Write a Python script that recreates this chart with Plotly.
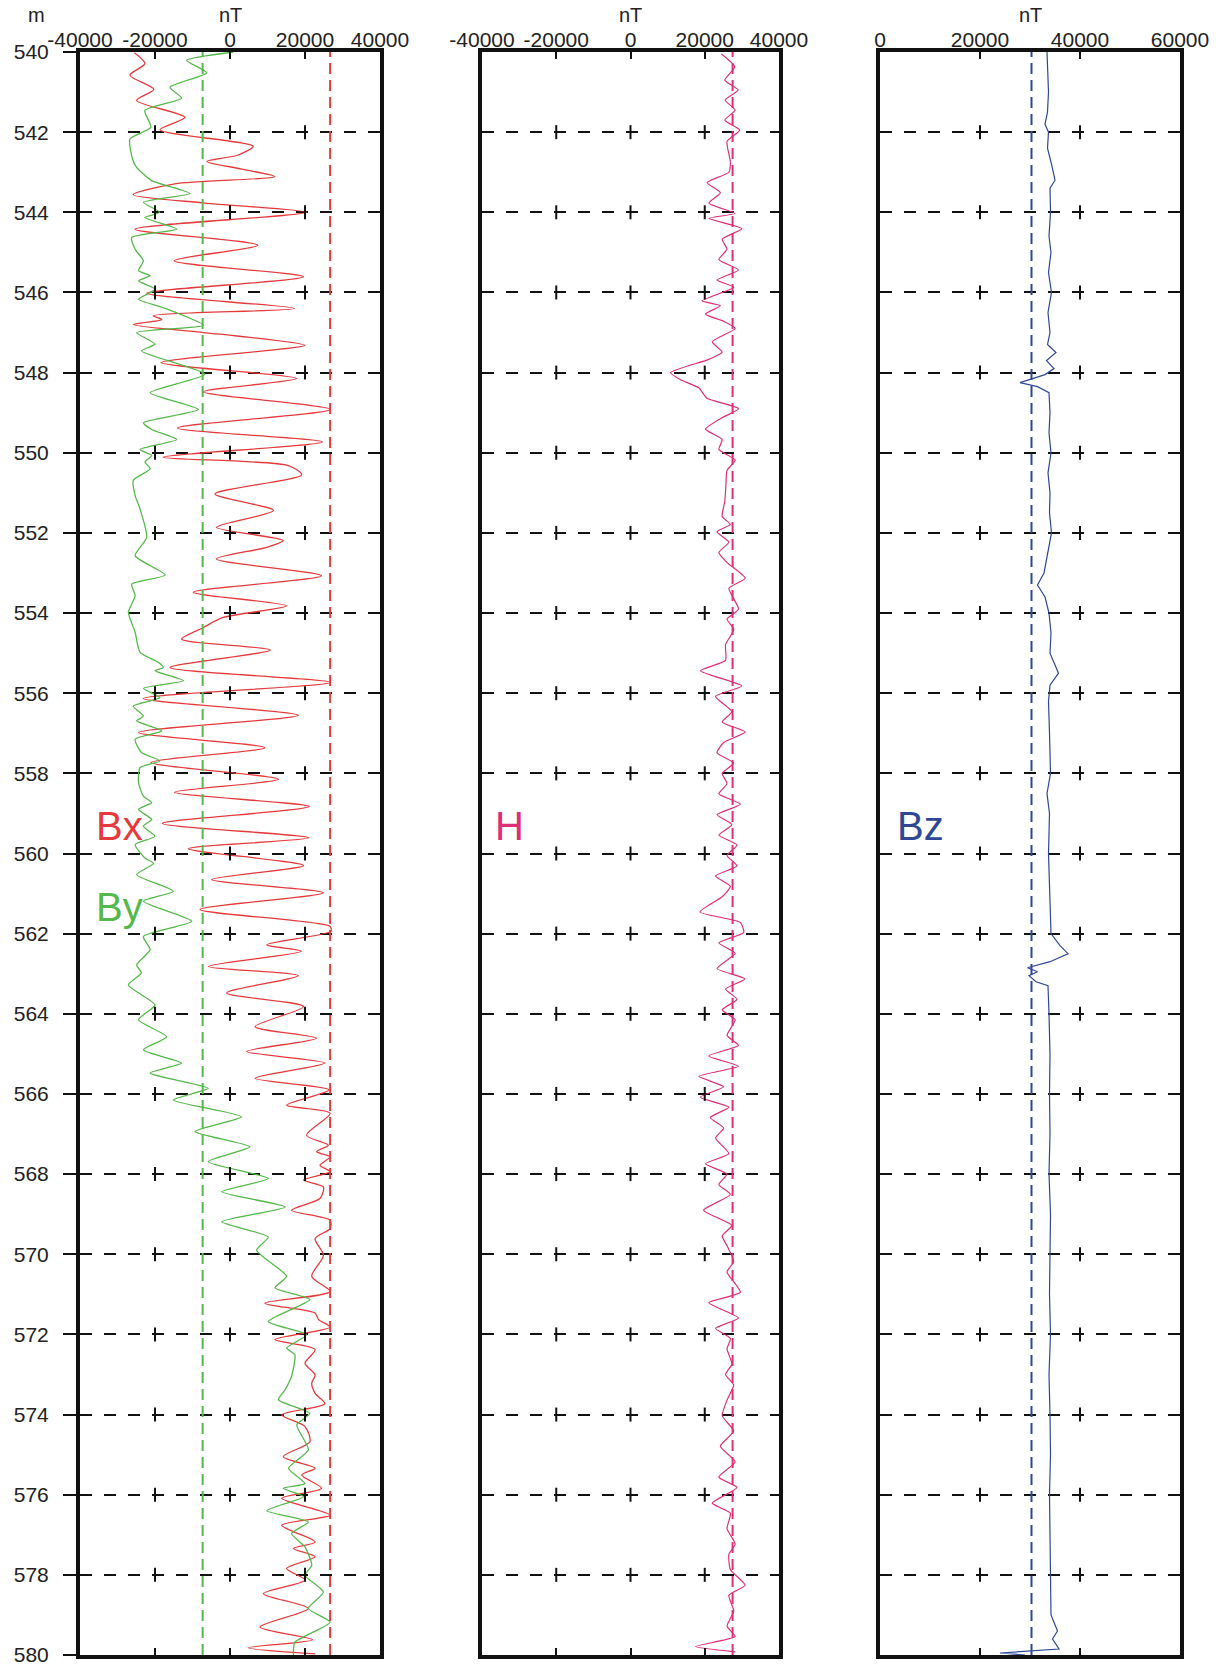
import plotly.graph_objects as go

# ---------------- data ----------------
bx_depth = [540.02, 540.29, 540.58, 540.93, 541.21, 541.63, 541.94, 542.35, 542.57, 542.73,
            542.92, 543.11, 543.29, 543.56, 543.77, 544.0, 544.42, 544.82, 545.21, 545.61,
            546.02, 546.4, 546.58, 546.68, 546.8, 547.0, 547.08, 547.32, 547.75, 548.15,
            548.48, 548.92, 549.38, 549.73, 550.11, 550.32, 550.55, 551.03, 551.44, 551.86,
            552.19, 552.36, 552.65, 553.07, 553.48, 553.82, 554.11, 554.36, 554.65, 554.92,
            555.36, 555.73, 556.13, 556.55, 556.98, 557.36, 557.73, 558.15, 558.47, 558.83,
            559.25, 559.61, 559.88, 560.3, 560.65, 560.98, 561.4, 561.82, 561.94, 562.28,
            562.44, 562.82, 563.05, 563.48, 563.82, 564.32, 564.61, 564.94, 565.23, 565.61,
            565.9, 566.28, 566.48, 567.03, 567.28, 567.44, 567.57, 567.78, 567.94, 568.15,
            568.32, 568.61, 568.9, 569.15, 569.36, 569.61, 570.03, 570.55, 570.93, 571.22,
            571.47, 571.63, 571.82, 572.13, 572.38, 572.72, 573.01, 573.22, 573.47, 573.73,
            574.01, 574.3, 574.68, 575.05, 575.34, 575.51, 575.84, 576.09, 576.51, 576.76,
            577.18, 577.34, 577.55, 577.84, 578.13, 578.47, 578.84, 579.3, 579.62, 579.82,
            579.97]
bx_value = [-25500, -22700, -26700, -20300, -24900, -12000, -18700, 6200, 2200, -6200,
            3100, 12000, -14700, -25800, -6700, 20400, -25300, 7400, -14900, 19600,
            -22200, 17200, -20400, -18200, -25800, -7100, 1300, 20000, -18400, 17800,
            -7100, 26700, -14000, 24600, -17800, 15600, 19100, -4000, 11600, -3600,
            14200, 9800, -3600, 24400, -9800, 15100, -1800, -7100, -12900, 10700,
            -16000, 26700, -23100, 18200, -24400, 9300, -21100, 12900, -14800, 21100,
            -18000, 21100, -11100, 19600, -4900, 24900, -8000, 26700, 26900, 9800,
            19100, -5800, 18200, -900, 19600, 6700, 23100, 4400, 25300, 6700,
            26400, 15100, 26700, 20400, 26200, 23100, 26700, 24000, 26700, 19600,
            24900, 24000, 16400, 26700, 26700, 22700, 24900, 21800, 26700, 9300,
            22700, 23600, 26700, 12000, 22700, 20000, 22700, 21800, 22700, 25300,
            13800, 20000, 21300, 14200, 22700, 19100, 24400, 13800, 26700, 13800,
            22700, 16900, 22700, 15100, 20000, 8900, 20900, 8000, 22000, 4900,
            22700]

by_depth = [540.0, 540.21, 540.52, 540.88, 541.15, 541.46, 541.88, 542.17, 542.67, 542.88,
            543.21, 543.53, 543.75, 544.0, 544.13, 544.42, 544.63, 544.92, 545.21, 545.46,
            545.58, 545.71, 545.92, 546.17, 546.38, 546.82, 547.0, 547.29, 547.46, 548.04,
            548.5, 548.92, 549.25, 549.42, 549.67, 549.92, 550.07, 550.23, 550.4, 550.69,
            551.07, 551.4, 552.11, 552.57, 553.05, 553.28, 553.57, 553.98, 554.48, 554.98,
            555.23, 555.36, 555.44, 555.69, 555.88, 556.11, 556.32, 556.57, 556.69, 556.94,
            557.15, 557.48, 557.69, 557.86, 558.23, 558.57, 558.73, 558.9, 559.15, 559.32,
            559.57, 559.78, 560.11, 560.25, 560.53, 560.94, 561.19, 561.69, 562.07, 562.4,
            562.78, 562.98, 563.28, 563.78, 564.15, 564.57, 564.9, 565.23, 565.48, 565.86,
            566.15, 566.57, 566.94, 567.32, 567.69, 568.11, 568.44, 568.82, 569.19, 569.57,
            569.9, 570.55, 570.84, 571.13, 571.68, 572.01, 572.34, 572.51, 573.05, 573.38,
            573.63, 573.97, 574.26, 574.88, 575.34, 575.72, 575.84, 576.05, 576.4, 576.68,
            576.97, 577.3, 577.76, 578.01, 578.43, 578.84, 579.18, 579.68, 580.0]
by_value = [900, -11600, -6200, -16000, -12900, -22700, -21100, -26700, -26000, -24900,
            -20900, -10700, -23100, -18700, -22700, -14200, -26200, -25300, -23100, -24400,
            -21300, -24400, -20000, -24400, -17800, -7100, -24900, -20000, -23600, -6700,
            -21300, -8400, -23100, -20900, -14200, -24000, -20900, -22700, -21300, -25800,
            -25300, -24000, -22200, -25300, -17300, -26200, -25300, -27100, -25300, -24000,
            -19100, -17800, -20000, -12400, -23100, -18700, -25800, -23100, -24900, -18200,
            -25300, -23600, -18700, -24000, -24400, -23100, -20900, -24400, -20900, -23100,
            -20000, -25300, -22700, -20400, -24900, -15100, -23100, -10200, -23100, -21300,
            -24900, -23600, -27100, -20000, -24400, -16900, -23100, -12900, -21300, -5800,
            -15100, 3100, -9300, 5300, -5800, 10200, -2200, 14700, -2200, 10200,
            7100, 15100, 12000, 21300, 10200, 20400, 15100, 17300, 16400, 14700,
            12900, 21300, 17800, 20900, 15600, 20000, 14200, 19600, 9800, 20900,
            16400, 20000, 21800, 20000, 24900, 20900, 26700, 17300, 16900]

h_depth = [540.05, 540.37, 540.7, 540.95, 541.2, 541.45, 541.7, 541.95, 542.23, 542.74,
           543.0, 543.26, 543.51, 543.77, 544.03, 544.15, 544.41, 544.67, 544.92, 545.18,
           545.44, 545.69, 545.87, 546.21, 546.33, 546.54, 546.72, 546.9, 547.23, 547.49,
           547.67, 548.0, 548.18, 548.38, 548.64, 548.9, 549.15, 549.41, 549.67, 549.92,
           550.18, 550.44, 550.82, 551.21, 551.59, 551.79, 551.97, 552.23, 552.49, 552.74,
           553.13, 553.38, 553.9, 554.15, 554.41, 554.79, 555.18, 555.44, 555.82, 556.08,
           556.46, 556.72, 556.97, 557.23, 557.49, 557.74, 558.0, 558.26, 558.51, 558.77,
           559.03, 559.28, 559.54, 559.79, 560.05, 560.31, 560.56, 560.82, 561.08, 561.46,
           561.72, 561.97, 562.23, 562.49, 562.87, 563.13, 563.38, 563.64, 563.9, 564.15,
           564.54, 564.79, 565.05, 565.31, 565.56, 565.82, 566.08, 566.33, 566.59, 566.85,
           567.1, 567.49, 567.74, 568.0, 568.26, 568.51, 568.9, 569.28, 569.54, 569.79,
           570.18, 570.44, 570.95, 571.21, 571.59, 571.85, 572.1, 572.36, 572.74, 573.0,
           573.26, 573.64, 574.03, 574.41, 574.79, 575.18, 575.56, 575.82, 576.21, 576.46,
           576.85, 577.23, 577.49, 577.87, 578.26, 578.51, 578.9, 579.28, 579.54, 579.79,
           579.92]
h_value = [24500, 28100, 25400, 29000, 25500, 28200, 25400, 29400, 26000, 26900,
           26500, 20600, 24200, 21100, 28200, 21100, 30000, 24700, 26000, 23800,
           29100, 23300, 27800, 19300, 24200, 20200, 25100, 28200, 22000, 24700,
           21100, 10800, 13500, 18400, 20600, 29100, 24200, 20200, 24700, 23800,
           28200, 26000, 25700, 25400, 24700, 26900, 23300, 26500, 23800, 26000,
           30900, 26500, 29100, 26000, 27800, 25600, 25600, 18800, 30000, 22900,
           27300, 24700, 30900, 25100, 23300, 27800, 24700, 26000, 23800, 29600,
           23300, 27300, 23800, 28700, 26000, 28700, 22900, 26900, 24700, 18700,
           29600, 30500, 23800, 28200, 23300, 30800, 25600, 28700, 24700, 28200,
           26000, 29100, 21100, 29100, 18400, 25100, 18800, 26500, 21500, 25100,
           22900, 26500, 20200, 26000, 23800, 26900, 19700, 27300, 24700, 26000,
           27800, 26000, 29600, 21100, 29100, 22900, 26900, 26000, 27300, 25600,
           27800, 26000, 24700, 27800, 24200, 28200, 23800, 28700, 22000, 26900,
           26000, 28200, 26500, 26900, 30900, 26500, 27800, 26000, 28200, 17500,
           28200]

bz_depth = [540.0, 540.5, 541.0, 541.5, 541.8, 542.0, 542.4, 542.8, 543.2, 543.4,
            544.0, 544.6, 545.0, 545.5, 546.0, 546.5, 547.0, 547.3, 547.5, 547.7,
            547.9, 548.05, 548.25, 548.35, 548.5, 549.0, 549.5, 550.0, 550.5, 551.0,
            551.5, 552.0, 552.5, 553.0, 553.3, 553.6, 554.0, 554.5, 555.0, 555.5,
            555.8, 556.2, 557.0, 558.0, 558.5, 559.0, 560.0, 561.0, 562.0, 562.3,
            562.5, 562.7, 562.85, 562.95, 563.05, 563.2, 563.3, 564.0, 565.0, 566.0,
            567.0, 568.0, 569.0, 570.0, 571.0, 572.0, 573.0, 574.0, 575.0, 576.0,
            577.0, 578.0, 579.0, 579.4, 579.6, 579.85, 579.95, 580.0]
bz_value = [33400, 33600, 33700, 33500, 33000, 33700, 33500, 34300, 35000, 34000,
            34100, 33800, 34200, 33700, 34300, 33600, 34000, 33500, 35200, 33300,
            34800, 33000, 28000, 31500, 33800, 34000, 33800, 34200, 33600, 34000,
            33900, 34300, 33500, 32800, 31500, 33000, 33800, 34200, 34000, 35700,
            34000, 33700, 33900, 34100, 33400, 33900, 33700, 33900, 34200, 36000,
            37600, 34000, 29500, 31500, 29800, 31200, 33600, 33800, 34000, 33900,
            34000, 33800, 34100, 34000, 33900, 34100, 33800, 34000, 34100, 33900,
            34000, 34000, 34200, 35500, 34500, 35800, 24000, 29000]

ref_bx = 26700      # red dashed reference line (panel 1)
ref_by = -7300      # green dashed reference line (panel 1)
ref_h = 27500       # magenta dashed reference line (panel 2)
ref_bz = 30300      # blue dashed reference line (panel 3)

depth_ticks = list(range(540, 581, 2))
ticks_p12 = [-40000, -20000, 0, 20000, 40000]
ticks_p12_text = ["-40000", "-20000", "0", "20000", "40000"]
ticks_p3 = [0, 20000, 40000, 60000]
ticks_p3_text = ["0", "20000", "40000", "60000"]

# ---------------- styling ----------------
W, H = 1221, 1665
RED = "#e53a3c"
GREEN = "#55b84a"
MAGENTA = "#dc2f78"
BLUE = "#2e4895"
INK = "#111111"
FONT = "Liberation Sans, Arial, sans-serif"


def px_dom(a, b):
    return [a / W, b / W]


ydom = [1 - 1655 / H, 1 - 52 / H]
xdoms = [px_dom(80, 380), px_dom(482, 779), px_dom(880, 1180)]

fig = go.Figure()

fig.add_trace(go.Scatter(x=bx_value, y=bx_depth, mode="lines", xaxis="x", yaxis="y",
                         line=dict(color=RED, width=1.3, shape="spline", smoothing=0.75),
                         showlegend=False, hoverinfo="skip"))
fig.add_trace(go.Scatter(x=by_value, y=by_depth, mode="lines", xaxis="x", yaxis="y",
                         line=dict(color=GREEN, width=1.3, shape="spline", smoothing=0.55),
                         showlegend=False, hoverinfo="skip"))
fig.add_trace(go.Scatter(x=h_value, y=h_depth, mode="lines", xaxis="x2", yaxis="y2",
                         line=dict(color=MAGENTA, width=1.2, shape="spline", smoothing=0.5),
                         showlegend=False, hoverinfo="skip"))
fig.add_trace(go.Scatter(x=bz_value, y=bz_depth, mode="lines", xaxis="x3", yaxis="y3",
                         line=dict(color=BLUE, width=1.2),
                         showlegend=False, hoverinfo="skip"))

# small cross ticks where grid lines meet the x tick positions
inner_depths = depth_ticks[1:-1]
for xa, ya, tv in (("x", "y", ticks_p12[1:-1]), ("x2", "y2", ticks_p12[1:-1]),
                   ("x3", "y3", ticks_p3[1:-1])):
    xs = [t for d in inner_depths for t in tv]
    ys = [d for d in inner_depths for t in tv]
    fig.add_trace(go.Scatter(x=xs, y=ys, mode="markers", xaxis=xa, yaxis=ya,
                             marker=dict(symbol="line-ns", size=10,
                                         line=dict(color=INK, width=2)),
                             showlegend=False, hoverinfo="skip"))

# dashed reference lines
for xa, ya, val, col in (("x", "y", ref_by, GREEN), ("x", "y", ref_bx, RED),
                         ("x2", "y2", ref_h, MAGENTA), ("x3", "y3", ref_bz, BLUE)):
    fig.add_shape(type="line", xref=xa, yref=ya + " domain", x0=val, x1=val, y0=0, y1=1,
                  line=dict(color=col, width=2, dash="11px,6px"))

common_x = dict(side="top", ticks="inside", ticklen=7, tickwidth=2, tickcolor=INK,
                showline=True, linewidth=4, linecolor=INK, mirror="allticks",
                showgrid=False, zeroline=False, tickangle=0, ticklabelstandoff=-7,
                automargin=False,
                tickfont=dict(family=FONT, size=21, color="#222"))
common_y = dict(range=[580, 540], tickvals=depth_ticks, showline=True, linewidth=4,
                linecolor=INK, mirror=True, showgrid=True, gridcolor=INK, gridwidth=2,
                griddash="12px,12px", zeroline=False, domain=ydom, automargin=False)

fig.update_layout(
    width=W, height=H, margin=dict(l=0, r=0, t=0, b=0, autoexpand=False),
    paper_bgcolor="white", plot_bgcolor="white",
    font=dict(family=FONT, color="#222"),
    xaxis=dict(domain=xdoms[0], range=[-40000, 40000], tickvals=ticks_p12,
               ticktext=ticks_p12_text, anchor="y", **common_x),
    xaxis2=dict(domain=xdoms[1], range=[-40000, 40000], tickvals=ticks_p12,
                ticktext=ticks_p12_text, anchor="y2", **common_x),
    xaxis3=dict(domain=xdoms[2], range=[0, 60000], tickvals=ticks_p3,
                ticktext=ticks_p3_text, anchor="y3", **common_x),
    yaxis=dict(anchor="x", ticks="outside", ticklen=13, tickwidth=2, tickcolor=INK,
               tickfont=dict(family=FONT, size=21, color="#222"), ticklabelstandoff=10,
               ticklabeloverflow="allow", **common_y),
    yaxis2=dict(anchor="x2", showticklabels=False, ticks="", **common_y),
    yaxis3=dict(anchor="x3", showticklabels=False, ticks="", **common_y),
)

# axis unit labels
for xc in (230, 630, 1030):
    fig.add_annotation(x=xc / W, y=1 - 15 / H, xref="paper", yref="paper", text="nT",
                       showarrow=False, xanchor="center", yanchor="middle",
                       font=dict(family=FONT, size=20, color="#222"))
fig.add_annotation(x=36 / W, y=1 - 15 / H, xref="paper", yref="paper", text="m",
                   showarrow=False, xanchor="center", yanchor="middle",
                   font=dict(family=FONT, size=20, color="#222"))

# curve labels
for txt, xl, yc, col in (("Bx", 94, 826, RED), ("By", 94, 907, GREEN),
                         ("H", 493, 826, MAGENTA), ("Bz", 895, 826, BLUE)):
    fig.add_annotation(x=xl / W, y=1 - yc / H, xref="paper", yref="paper", text=txt,
                       showarrow=False, xanchor="left", yanchor="middle",
                       font=dict(family=FONT, size=40, color=col))

fig.write_html("out.html")
